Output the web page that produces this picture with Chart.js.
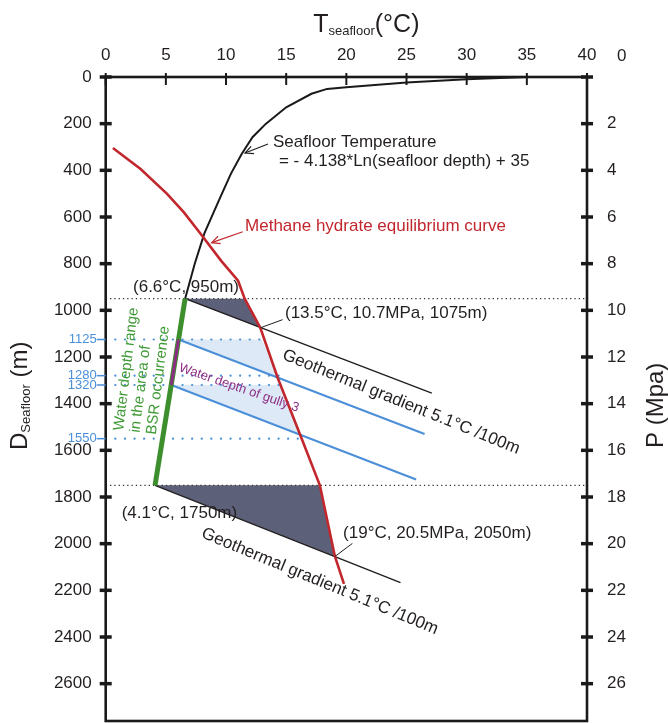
<!DOCTYPE html>
<html>
<head>
<meta charset="utf-8">
<script src="https://cdn.jsdelivr.net/npm/chart.js@4.4.1/dist/chart.umd.min.js"></script>
<style>
  body { margin: 0; background: #fff; overflow: hidden; }
  canvas { display: block; }
</style>
</head>
<body>
<canvas id="myChart" width="668" height="723"></canvas>
<script>
var FONT = '"Liberation Sans", Arial, Helvetica, sans-serif';

// axis ticks
var tempTicks = [0, 5, 10, 15, 20, 25, 30, 35, 40];
var depthTicks = [0, 200, 400, 600, 800, 1000, 1200, 1400, 1600, 1800, 2000, 2200, 2400, 2600];
var pressTicks = [0, 2, 4, 6, 8, 10, 12, 14, 16, 18, 20, 22, 24, 26];

// seafloor temperature curve (degC / m)
var seaT = [35, 30, 25, 20, 18.4, 17.1, 15.0, 13.3, 12.2, 11.3, 10.4, 9.4, 8.2, 7.4, 6.6];
var seaD = [0, 10, 24, 44, 51, 72, 130, 201, 258, 330, 415, 530, 670, 800, 950];

// methane hydrate equilibrium curve
var hydT = [0.6, 2.9, 5.1, 6.5, 7.9, 9.6, 11.0, 11.55, 12.85, 14.3, 16.25, 17.8, 19.05, 19.8];
var hydD = [304, 394, 501, 580, 673, 788, 873, 950, 1075, 1290, 1545, 1750, 2055, 2172];

// geothermal gradients 5.1 degC/100m
var geoTopT = [6.6, 27.1], geoTopD = [950, 1355];
var geoBotT = [4.1, 24.5], geoBotD = [1750, 2167];
var blue1T = [6.05, 26.5], blue1D = [1125, 1530];
var blue2T = [5.45, 25.8], blue2D = [1320, 1725];

// BSR water depth range and gully 3
var bsrT = [6.6, 4.1], bsrD = [950, 1750];
var gullyT = [6.05, 5.45], gullyD = [1125, 1320];

// shaded areas
var stabTopT = [6.6, 11.55, 12.85, 6.6], stabTopD = [950, 950, 1075, 950];
var stabBotT = [4.1, 17.8, 19.05, 4.1], stabBotD = [1750, 1750, 2055, 1750];
var gully1T = [6.05, 13.0, 14.25, 6.05], gully1D = [1125, 1125, 1287, 1125];
var gully2T = [5.45, 14.55, 16.2, 5.45], gully2D = [1320, 1320, 1531, 1320];

// marked depths
var markDepths = [1125, 1280, 1320, 1550];
var markEndT = [13.0, 15.0, 14.8, 16.5];
var limitDepths = [950, 1750];

var notes = [
  {lines: ['Seafloor Temperature'], t: 13.9, d: 279},
  {lines: ['= - 4.138*Ln(seafloor depth) + 35'], t: 14.4, d: 360},
  {lines: ['Methane hydrate equilibrium curve'], t: 11.58, d: 639, color: '#c1272d'},
  {lines: ['(6.6°C, 950m)'], t: 2.27, d: 900},
  {lines: ['(13.5°C, 10.7MPa, 1075m)'], t: 14.9, d: 1012},
  {lines: ['(4.1°C, 1750m)'], t: 1.33, d: 1869},
  {lines: ['(19°C, 20.5MPa, 2050m)'], t: 19.73, d: 1955},
  {lines: ['Geothermal gradient 5.1°C /100m'], t: 24.55, d: 1393, angle: 22, align: 'center'},
  {lines: ['Geothermal gradient 5.1°C /100m'], t: 17.8, d: 2162, angle: 22.5, align: 'center'},
  {lines: ['Water depth of gully 3'], t: 11.08, d: 1333, angle: 19, size: 13, color: '#8e2f86', align: 'center'},
  {lines: ['Water depth range', 'in the area of', 'BSR occurrence'], t: 1.1, d: 1515, angle: -83, size: 15, color: '#3f9a36', lh: 16.5}
];
var arrows = [
  {from: [13.49, 287], to: [11.58, 326], color: '#231f20'},
  {from: [11.39, 663], to: [8.81, 710], color: '#c1272d'}
];
var leaders = [
  {from: [12.85, 1075], to: [14.7, 1040]},
  {from: [19.05, 2055], to: [20.5, 1999]}
];

function pts(T, D) {
  return T.map(function(t, i) { return {x: t, y: D[i]}; });
}

function lineSet(T, D, color, width, extra) {
  var ds = {data: pts(T, D), borderColor: color, borderWidth: width, showLine: true,
    pointRadius: 0, pointHoverRadius: 0, fill: false, tension: 0};
  for (var k in extra) ds[k] = extra[k];
  return ds;
}

var datasets = [
  lineSet(stabTopT, stabTopD, '#5d6079', 0, {fill: 'shape', backgroundColor: '#5d6079', order: 20}),
  lineSet(stabBotT, stabBotD, '#5d6079', 0, {fill: 'shape', backgroundColor: '#5d6079', order: 20}),
  lineSet(gully1T, gully1D, '#dde9f6', 0, {fill: 'shape', backgroundColor: '#dde9f6', order: 20}),
  lineSet(gully2T, gully2D, '#dde9f6', 0, {fill: 'shape', backgroundColor: '#dde9f6', order: 20})
];
limitDepths.forEach(function(d) {
  datasets.push(lineSet([0, 40], [d, d], '#333', 1.3, {borderDash: [1.3, 3], order: 15}));
});
markDepths.forEach(function(d, i) {
  datasets.push(lineSet([0, markEndT[i]], [d, d], '#4a90d9', 2.2,
    {borderDash: [0.1, 9.5], borderCapStyle: 'round', order: 14}));
});
datasets.push(lineSet(geoTopT, geoTopD, '#231f20', 1.5, {order: 8}));
datasets.push(lineSet(geoBotT, geoBotD, '#231f20', 1.5, {order: 8}));
datasets.push(lineSet(blue1T, blue1D, '#4a8fd8', 2, {order: 7}));
datasets.push(lineSet(blue2T, blue2D, '#4a8fd8', 2, {order: 7}));
datasets.push(lineSet(seaT, seaD, '#1a1a1a', 2, {order: 6}));
datasets.push(lineSet(hydT, hydD, '#c1272d', 2.6, {order: 4}));
datasets.push(lineSet(bsrT, bsrD, '#3c8f2c', 5, {order: 3}));
datasets.push(lineSet(gullyT, gullyD, '#8b2f80', 3, {order: 2}));

function drawParts(ctx, parts, x, y) {
  parts.forEach(function(p) {
    ctx.font = p.size + 'px ' + FONT;
    ctx.fillText(p.t, x, y + (p.dy || 0));
    x += ctx.measureText(p.t).width;
  });
}
function partsWidth(ctx, parts) {
  var w = 0;
  parts.forEach(function(p) { ctx.font = p.size + 'px ' + FONT; w += ctx.measureText(p.t).width; });
  return w;
}

var decor = {
  id: 'decor',
  afterDatasetsDraw: function(chart) {
    var ctx = chart.ctx, ca = chart.chartArea;
    var sx = chart.scales.x, sy = chart.scales.y, sy2 = chart.scales.y2;
    function P(t, d) { return [sx.getPixelForValue(t), sy.getPixelForValue(d)]; }
    ctx.save();

    // frame and tick marks
    ctx.strokeStyle = '#1a1a1a';
    ctx.lineWidth = 2.6;
    ctx.strokeRect(ca.left, ca.top, ca.right - ca.left, ca.bottom - ca.top);
    ctx.lineWidth = 2;
    sx.ticks.forEach(function(tk) {
      var x = sx.getPixelForValue(tk.value);
      ctx.beginPath(); ctx.moveTo(x, ca.top - 4); ctx.lineTo(x, ca.top + 8); ctx.stroke();
    });
    ctx.lineWidth = 3.5;
    sy.ticks.forEach(function(tk) {
      var y = sy.getPixelForValue(tk.value);
      ctx.beginPath(); ctx.moveTo(ca.left - 6, y); ctx.lineTo(ca.left + 6, y); ctx.stroke();
    });
    sy2.ticks.forEach(function(tk) {
      var y = sy2.getPixelForValue(tk.value);
      ctx.beginPath(); ctx.moveTo(ca.right - 6, y); ctx.lineTo(ca.right + 6, y); ctx.stroke();
    });

    // right axis zero sits on the top label row
    ctx.fillStyle = '#231f20';
    ctx.font = '17px ' + FONT;
    ctx.textAlign = 'left';
    ctx.textBaseline = 'middle';
    ctx.fillText('0', ca.right + 30, 56);

    // axis titles
    ctx.textBaseline = 'alphabetic';
    var top = [{t: 'T', size: 25}, {t: 'seafloor', size: 13, dy: 3}, {t: '(°C)', size: 25}];
    var cx = (ca.left + ca.right) / 2 + 20;
    drawParts(ctx, top, cx - partsWidth(ctx, top) / 2, 32);

    ctx.save();
    ctx.translate(27, 450);
    ctx.rotate(-Math.PI / 2);
    drawParts(ctx, [{t: 'D', size: 24}, {t: 'Seafloor', size: 13, dy: 3}, {t: ' (m)', size: 24}], 0, 0);
    ctx.restore();

    ctx.save();
    ctx.translate(663, 448);
    ctx.rotate(-Math.PI / 2);
    drawParts(ctx, [{t: 'P (Mpa)', size: 24}], 0, 0);
    ctx.restore();

    // blue depth marks on the left axis
    ctx.font = '13px ' + FONT;
    ctx.fillStyle = '#4a90d9';
    ctx.strokeStyle = '#4a90d9';
    ctx.lineWidth = 1.5;
    ctx.textAlign = 'right';
    ctx.textBaseline = 'middle';
    markDepths.forEach(function(d) {
      var y = sy.getPixelForValue(d);
      ctx.fillText(String(d), ca.left - 9, y);
      ctx.beginPath(); ctx.moveTo(ca.left - 9, y); ctx.lineTo(ca.left, y); ctx.stroke();
    });

    // text notes
    notes.forEach(function(n) {
      var p = P(n.t, n.d);
      ctx.save();
      ctx.translate(p[0], p[1]);
      ctx.rotate((n.angle || 0) * Math.PI / 180);
      ctx.font = (n.size || 17) + 'px ' + FONT;
      ctx.fillStyle = n.color || '#231f20';
      ctx.textAlign = n.align || 'left';
      ctx.textBaseline = 'middle';
      n.lines.forEach(function(s, i) { ctx.fillText(s, 0, i * (n.lh || 0)); });
      ctx.restore();
    });

    // leader lines
    ctx.strokeStyle = '#231f20';
    ctx.lineWidth = 1;
    leaders.forEach(function(l) {
      var a = P(l.from[0], l.from[1]), b = P(l.to[0], l.to[1]);
      ctx.beginPath(); ctx.moveTo(a[0], a[1]); ctx.lineTo(b[0], b[1]); ctx.stroke();
    });

    // arrows with open heads
    arrows.forEach(function(ar) {
      var a = P(ar.from[0], ar.from[1]), b = P(ar.to[0], ar.to[1]);
      var ang = Math.atan2(b[1] - a[1], b[0] - a[0]), L = 9, h = 0.45;
      ctx.strokeStyle = ar.color;
      ctx.lineWidth = 1.2;
      ctx.beginPath(); ctx.moveTo(a[0], a[1]); ctx.lineTo(b[0], b[1]); ctx.stroke();
      ctx.beginPath();
      ctx.moveTo(b[0] - L * Math.cos(ang - h), b[1] - L * Math.sin(ang - h));
      ctx.lineTo(b[0], b[1]);
      ctx.lineTo(b[0] - L * Math.cos(ang + h), b[1] - L * Math.sin(ang + h));
      ctx.stroke();
    });

    ctx.restore();
  }
};

function fixedTicks(list) {
  return function(scale) { scale.ticks = list.map(function(v) { return {value: v}; }); };
}

var tickStyle = {font: {family: FONT, size: 17}, color: '#231f20', autoSkip: false, maxRotation: 0};
function plain(v) { return String(v); }

new Chart(document.getElementById('myChart'), {
  type: 'scatter',
  data: {datasets: datasets},
  options: {
    responsive: false,
    animation: false,
    layout: {padding: {top: 0, left: 0, right: 0, bottom: 2}},
    plugins: {legend: {display: false}, tooltip: {enabled: false}},
    scales: {
      x: {
        type: 'linear', position: 'top', min: 0, max: 40,
        afterBuildTicks: fixedTicks(tempTicks),
        afterFit: function(s) { s.height = 77; },
        grid: {display: false, drawTicks: false}, border: {display: false},
        ticks: Object.assign({padding: 11, callback: plain}, tickStyle)
      },
      y: {
        type: 'linear', position: 'left', reverse: true, min: 0, max: 2760,
        afterBuildTicks: fixedTicks(depthTicks),
        afterFit: function(s) { s.width = 105.7; s.paddingTop = 0; s.paddingBottom = 0; },
        grid: {display: false, drawTicks: false}, border: {display: false},
        ticks: Object.assign({padding: 14, callback: plain}, tickStyle)
      },
      y2: {
        type: 'linear', position: 'right', reverse: true, min: 0, max: 27.6, display: true,
        afterBuildTicks: fixedTicks(pressTicks),
        afterFit: function(s) { s.width = 81; s.paddingTop = 0; s.paddingBottom = 0; },
        grid: {display: false, drawTicks: false}, border: {display: false},
        ticks: Object.assign({padding: 20, callback: function(v) { return v === 0 ? '' : String(v); }}, tickStyle)
      }
    }
  },
  plugins: [decor]
});
</script>
</body>
</html>
